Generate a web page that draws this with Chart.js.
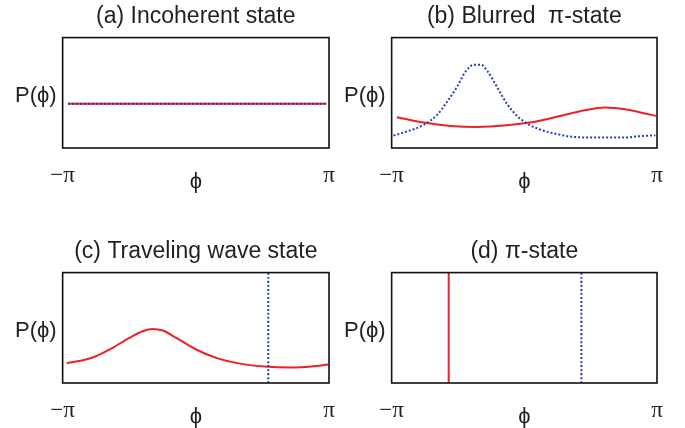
<!DOCTYPE html>
<html>
<head>
<meta charset="utf-8">
<script src="https://cdn.jsdelivr.net/npm/chart.js@4.4.1/dist/chart.umd.min.js"></script>
<style>
  html, body { margin: 0; padding: 0; background: #fff; overflow: hidden; }
  body { width: 685px; height: 428px; position: relative; }
  .panel { position: absolute; }
</style>
</head>
<body>
<div class="panel" style="left:0;top:0"><canvas id="chartA" width="342" height="215"></canvas></div>
<div class="panel" style="left:334px;top:0"><canvas id="chartB" width="351" height="215"></canvas></div>
<div class="panel" style="left:0;top:235px"><canvas id="chartC" width="342" height="215"></canvas></div>
<div class="panel" style="left:334px;top:235px"><canvas id="chartD" width="351" height="215"></canvas></div>

<script>
/* ─── DATA (phase in units of π, P as fraction of frame height) ─── */
const xTickValues = [-1, 1];
const xTickLabels = ['−π', 'π'];
const xTitle = 'ϕ';          // sits under the middle of the axis
const yTickLabel = 'P(ϕ)';

const titles = ['(a) Incoherent state', '(b) Blurred  π-state', '(c) Traveling wave state', '(d) π-state'];

// (a) incoherent: both flat
const incoPhi = [-0.96, -0.5, 0, 0.5, 0.98];
const incoRed = [0.4, 0.4, 0.4, 0.4, 0.4];
const incoBlue = [0.4, 0.4, 0.4, 0.4, 0.4];

// (b) blurred pi-state
const blurRedPhi = [-0.961, -0.759, -0.556, -0.353, -0.151, 0.051, 0.254, 0.456, 0.608, 0.760, 0.911, 0.992];
const blurRed = [0.279, 0.230, 0.200, 0.191, 0.203, 0.233, 0.285, 0.342, 0.367, 0.351, 0.312, 0.291];
const blurBluePhi = [-0.986, -0.885, -0.759, -0.657, -0.581, -0.505, -0.442, -0.379, -0.328, -0.277, -0.201, -0.126, -0.050, 0.026, 0.127, 0.254, 0.355, 0.557, 0.760, 0.861, 0.987];
const blurBlue = [0.112, 0.149, 0.209, 0.300, 0.421, 0.558, 0.694, 0.755, 0.755, 0.694, 0.542, 0.391, 0.285, 0.218, 0.164, 0.124, 0.103, 0.094, 0.094, 0.106, 0.115];

// (c) traveling wave
const travRedPhi = [-0.97, -0.856, -0.754, -0.627, -0.500, -0.399, -0.323, -0.247, -0.146, 0.006, 0.158, 0.310, 0.513, 0.716, 0.868, 0.995];
const travRed = [0.180, 0.204, 0.240, 0.317, 0.408, 0.469, 0.490, 0.475, 0.408, 0.301, 0.225, 0.180, 0.149, 0.140, 0.149, 0.167];
const travBluePhi = [0.544, 0.544];
const travBlue = [0, 1];

// (d) pi-state: two delta peaks
const piRedPhi = [-0.57, -0.57];
const piRed = [0, 1];
const piBluePhi = [0.43, 0.43];
const piBlue = [0, 1];

const RED = '#ee2026';
const BLUE = '#2a3fae';
const INK = '#231f20';
const SANS = "'Liberation Sans', 'DejaVu Sans', Arial, sans-serif";
const SERIF = "'Liberation Serif', 'Times New Roman', serif";

const pairs = (xs, ys) => xs.map((x, i) => ({ x, y: ys[i] }));

function redSet(xs, ys) {
  return { data: pairs(xs, ys), order: 1, borderColor: RED, borderWidth: 2, pointRadius: 0, cubicInterpolationMode: 'monotone', fill: false };
}
function blueSet(xs, ys) {
  return { data: pairs(xs, ys), order: 0, borderColor: BLUE, borderWidth: 2, borderDash: [2, 2], pointRadius: 0, cubicInterpolationMode: 'monotone', fill: false };
}

/* ─── FRAME ─── */
const framePlugin = {
  id: 'frame',
  afterDatasetsDraw(chart) {
    const a = chart.chartArea, ctx = chart.ctx;
    ctx.save();
    ctx.strokeStyle = '#111';
    ctx.lineWidth = 1.6;
    ctx.strokeRect(a.left, a.top, a.right - a.left, a.bottom - a.top);
    ctx.restore();
  }
};

// −π / π sit ~27px under the frame, ϕ ~33px
const piFont = { family: SERIF, size: 23, lineHeight: 55 / 23 };
const phiFont = { family: SANS, size: 22, lineHeight: 67 / 22 };

function makePanel(id, title, datasets, pad) {
  return new Chart(document.getElementById(id), {
    type: 'line',
    data: { datasets },
    plugins: [framePlugin],
    options: {
      responsive: false,
      animation: false,
      devicePixelRatio: 1,
      layout: { padding: pad },
      plugins: {
        legend: { display: false },
        tooltip: { enabled: false },
        title: {
          display: true, text: title, color: INK, fullSize: false,
          font: { family: SANS, size: 23, weight: 'normal' },
          padding: { top: 3, bottom: 7 }
        }
      },
      scales: {
        x: {
          type: 'linear', min: -1, max: 1,
          grid: { display: false, drawTicks: false },
          border: { display: false },
          afterBuildTicks: s => {
            s.ticks = [{ value: xTickValues[0] }, { value: 0 }, { value: xTickValues[1] }];
          },
          ticks: {
            autoSkip: false, maxRotation: 0, padding: 0, color: INK,
            font: ctx => (ctx.tick && ctx.tick.value === 0 ? phiFont : piFont),
            callback: v => (v === 0 ? xTitle : xTickLabels[xTickValues.indexOf(v)])
          }
        },
        y: {
          min: 0, max: 1,
          grid: { display: false, drawTicks: false },
          border: { display: false },
          afterBuildTicks: s => { s.ticks = [{ value: 0.47 }]; },
          ticks: {
            padding: 6, color: INK,
            font: { family: SANS, size: 22 },
            callback: () => yTickLabel
          }
        }
      }
    }
  });
}

const padLeft = { left: 9, right: 13, top: 0, bottom: 0 };
const padRight = { left: 4, right: 28, top: 0, bottom: 0 };

makePanel('chartA', titles[0], [redSet(incoPhi, incoRed), blueSet(incoPhi, incoBlue)], padLeft);
makePanel('chartB', titles[1], [redSet(blurRedPhi, blurRed), blueSet(blurBluePhi, blurBlue)], padRight);
makePanel('chartC', titles[2], [redSet(travRedPhi, travRed), blueSet(travBluePhi, travBlue)], padLeft);
makePanel('chartD', titles[3], [redSet(piRedPhi, piRed), blueSet(piBluePhi, piBlue)], padRight);
</script>
</body>
</html>
